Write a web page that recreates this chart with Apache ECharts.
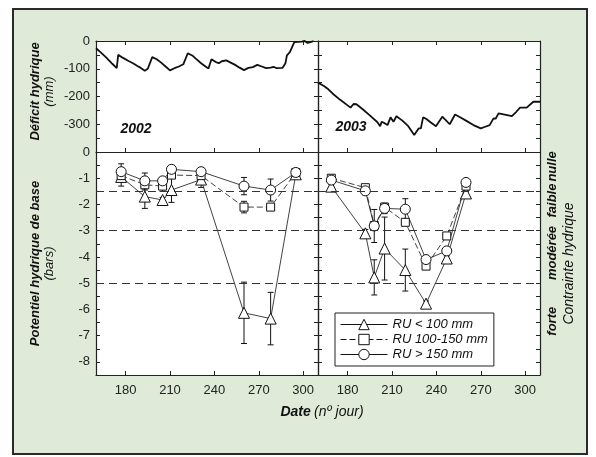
<!DOCTYPE html>
<html>
<head>
<meta charset="utf-8">
<script src="https://cdn.jsdelivr.net/npm/echarts@6/dist/echarts.min.js"></script>
<style>
  html, body { margin: 0; padding: 0; background: #fff; }
  #frame { position: absolute; left: 12px; top: 8px; width: 572px; height: 443px; border: 2px solid #2a2a2a; background: #e0ead8; }
  #chart { position: absolute; left: 0; top: 0; width: 596px; height: 457px; }
</style>
</head>
<body>
<div id="frame"></div>
<div id="chart"></div>
<script>
var FONT = '"Liberation Sans", Arial, sans-serif';

// axes
var xTicks = [180, 210, 240, 270, 300];
var deficitTicks = [0, -100, -200, -300];
var deficitTickMarks = [0, -50, -100, -150, -200, -250, -300, -350, -400];
var potentialTicks = [0, -1, -2, -3, -4, -5, -6, -7, -8];
var potentialTickMarks = [0, -0.5, -1, -1.5, -2, -2.5, -3, -3.5, -4, -4.5, -5, -5.5, -6, -6.5, -7, -7.5, -8, -8.5];

// stress classes
var stressLevels = [-1.5, -3, -5];
var stressLabels = ['nulle', 'faible', 'modérée', 'forte'];
var stressLabelAt = [-0.55, -1.85, -3.85, -6.45];

var seriesNames = ['RU < 100 mm', 'RU 100-150 mm', 'RU > 150 mm'];

// water deficit (mm) : [day, value]
var deficit2002 = [[160,-26],[163,-40],[167,-60],[171,-82],[174,-98],[175,-50],[178,-60],[182,-72],[185,-80],
  [188,-90],[190,-96],[193,-107],[195,-100],[198,-58],[201,-66],[204,-78],[207,-92],[210,-106],[213,-98],
  [216,-92],[219,-84],[220,-78],[222,-44],[225,-52],[228,-66],[231,-80],[234,-92],[236,-99],[238,-66],
  [241,-76],[243,-80],[245,-73],[248,-70],[251,-78],[254,-86],[257,-96],[260,-105],[263,-97],[266,-94],
  [269,-86],[272,-92],[275,-98],[278,-96],[280,-93],[282,-98],[286,-97],[288,-80],[289,-52],[291,-40],
  [292,-38],[294,-4],[295,0],[299,-2],[301,0],[303,-7],[305,-4],[307,0]];
var deficit2003 = [[160,-150],[164,-162],[167,-174],[170,-190],[175,-212],[180,-232],[182,-240],[184,-227],
  [186,-228],[190,-245],[195,-268],[200,-292],[202,-307],[203,-291],[205,-296],[207,-303],[209,-275],
  [211,-291],[213,-271],[217,-287],[221,-307],[225,-339],[226,-336],[228,-315],[229.5,-315],[231,-275],
  [233,-280],[236,-293],[239.7,-307],[244,-273],[246,-283],[249,-300],[252.6,-265],[256,-275],[260,-287],
  [265,-303],[270,-315],[273,-309],[276,-303],[278.6,-279],[280,-280],[282,-261],[287,-266],[291,-271],
  [294,-255],[296.5,-240],[301,-240],[305.5,-219],[310,-219]];

// predawn water potential (bars)
var days2002 = [177, 193, 205, 211, 231, 260, 278, 295];
var tri2002 = [-0.95, -1.7, -1.83, -1.45, -1.05, -6.13, -6.35, -0.85];
var triErr2002 = [0.35, 0.45, 0.1, 0.47, 0.3, 1.17, 1.0, 0.1];
var sq2002 = [-0.9, -1.25, -1.3, -0.88, -0.9, -2.1, -2.1, -0.78];
var sqErr2002 = [0.1, 0.2, 0.2, 0.1, 0.1, 0.22, 0.1, 0.1];
var circ2002 = [-0.75, -1.1, -1.1, -0.66, -0.75, -1.3, -1.45, -0.78];
var circErr2002 = [0.3, 0.3, 0.1, 0.1, 0.15, 0.33, 0.42, 0.1];

var days2003 = [169, 192, 198, 205, 219, 233, 247, 260];
var tri2003 = [-1.32, -3.1, -4.78, -3.68, -4.5, -5.78, -4.06, -1.58];
var triErr2003 = [0.1, 0.15, 0.67, 1.2, 0.8, 0.1, 0.1, 0.1];
var sq2003 = [-1.0, -1.36, -2.8, -2.1, -2.68, -4.35, -3.2, -1.3];
var sqErr2003 = [0.1, 0.1, 0.1, 0.1, 0.1, 0.1, 0.1, 0.1];
var circ2003 = [-1.07, -1.48, -2.82, -2.15, -2.18, -4.1, -3.77, -1.16];
var circErr2003 = [0.12, 0.15, 0.63, 0.2, 0.4, 0.1, 0.1, 0.1];

var symbols = ['triangle', 'rect', 'circle'];
var symbolSizes = [11, 8, 10];

function xAx(grid, pos, labels, ticks) {
    return {
        type: 'value', gridIndex: grid, position: pos, min: 160, max: 310,
        axisLine: { onZero: false, lineStyle: { color: '#222', width: 1.2 } },
        axisTick: { show: ticks, inside: true, length: 4, customValues: xTicks, lineStyle: { color: '#222' } },
        axisLabel: { show: labels, customValues: xTicks, margin: 9, color: '#222', fontSize: 13, fontFamily: FONT },
        splitLine: { show: false }
    };
}

function yAx(grid, pos, min, marks, labels) {
    return {
        type: 'value', gridIndex: grid, position: pos, min: min, max: 0,
        axisLine: { onZero: false, lineStyle: { color: '#222', width: 1.2 } },
        axisTick: { inside: true, length: 4, customValues: marks, lineStyle: { color: '#222' } },
        axisLabel: { show: !!labels, customValues: labels || [], margin: 6, color: '#222', fontSize: 13, fontFamily: FONT },
        splitLine: { show: false }
    };
}

function ruSeries(k, days, vals, xi, yi) {
    return {
        type: 'line', name: seriesNames[k], xAxisIndex: xi, yAxisIndex: yi, z: 3,
        data: days.map(function (d, i) { return [d, vals[i]]; }),
        symbol: symbols[k], symbolSize: symbolSizes[k],
        itemStyle: { color: '#fff', borderColor: '#111', borderWidth: 1 },
        lineStyle: { color: '#111', width: 0.8, type: k === 1 ? [6, 3] : 'solid' }
    };
}

function errorBars(name, days, vals, errs, xi, yi) {
    return {
        type: 'custom', name: name, xAxisIndex: xi, yAxisIndex: yi, z: 2, silent: true,
        data: days.map(function (d, i) { return [d, vals[i] - errs[i], vals[i] + errs[i]]; }),
        encode: { x: 0, y: [1, 2] },
        renderItem: function (params, api) {
            var lo = api.coord([api.value(0), api.value(1)]);
            var hi = api.coord([api.value(0), api.value(2)]);
            var w = 3;
            var st = { stroke: '#111', lineWidth: 1 };
            return {
                type: 'group', children: [
                    { type: 'line', shape: { x1: lo[0], y1: lo[1], x2: hi[0], y2: hi[1] }, style: st },
                    { type: 'line', shape: { x1: lo[0] - w, y1: lo[1], x2: lo[0] + w, y2: lo[1] }, style: st },
                    { type: 'line', shape: { x1: hi[0] - w, y1: hi[1], x2: hi[0] + w, y2: hi[1] }, style: st }
                ]
            };
        }
    };
}

function thresholds(xi, yi) {
    return {
        type: 'line', name: 'seuils', xAxisIndex: xi, yAxisIndex: yi, z: 1, data: [],
        markLine: {
            silent: true, symbol: 'none', label: { show: false }, animation: false,
            lineStyle: { color: '#333', width: 1, type: [8, 5] },
            data: stressLevels.map(function (v) { return { yAxis: v }; })
        }
    };
}

function deficitSeries(data, xi, yi) {
    return {
        type: 'line', name: 'deficit', xAxisIndex: xi, yAxisIndex: yi, data: data,
        showSymbol: false, symbol: 'none', lineStyle: { color: '#111', width: 1.8 }
    };
}

var myChart = echarts.init(document.getElementById('chart'));

var option = {
    animation: false,
    textStyle: { fontFamily: FONT },
    grid: [
        { left: 96, top: 41, width: 222, height: 111, show: true, backgroundColor: '#fff', borderWidth: 0 },
        { left: 318, top: 41, width: 222, height: 111, show: true, backgroundColor: '#fff', borderWidth: 0 },
        { left: 96, top: 152, width: 222, height: 223, show: true, backgroundColor: '#fff', borderWidth: 0 },
        { left: 318, top: 152, width: 222, height: 223, show: true, backgroundColor: '#fff', borderWidth: 0 }
    ],
    xAxis: [
        xAx(0, 'bottom', false, true),
        xAx(0, 'top', false, true),
        xAx(1, 'bottom', false, true),
        xAx(1, 'top', false, true),
        xAx(2, 'bottom', true, true),
        xAx(3, 'bottom', true, true)
    ],
    yAxis: [
        Object.assign(yAx(0, 'left', -400, deficitTickMarks, deficitTicks), {
            name: '{b|Déficit hydrique}\n{n|(mm)}', nameLocation: 'middle', nameGap: 40, nameRotate: 90,
            nameTextStyle: { padding: [0, 0, 0, 10], rich: {
                b: { fontWeight: 'bold', fontStyle: 'italic', fontSize: 13, color: '#111', lineHeight: 14, fontFamily: FONT },
                n: { fontStyle: 'italic', fontSize: 13, color: '#111', lineHeight: 14, fontFamily: FONT }
            } }
        }),
        yAx(0, 'right', -400, deficitTickMarks),
        yAx(1, 'left', -400, deficitTickMarks),
        yAx(1, 'right', -400, deficitTickMarks),
        Object.assign(yAx(2, 'left', -8.5, potentialTickMarks, potentialTicks), {
            name: '{b|Potentiel hydrique de base}\n{n|(bars)}', nameLocation: 'middle', nameGap: 40, nameRotate: 90,
            nameTextStyle: { rich: {
                b: { fontWeight: 'bold', fontStyle: 'italic', fontSize: 13, color: '#111', lineHeight: 14, fontFamily: FONT },
                n: { fontStyle: 'italic', fontSize: 13, color: '#111', lineHeight: 14, fontFamily: FONT }
            } }
        }),
        yAx(2, 'right', -8.5, potentialTickMarks),
        yAx(3, 'left', -8.5, potentialTickMarks),
        yAx(3, 'right', -8.5, potentialTickMarks),
        {
            type: 'value', gridIndex: 3, position: 'right', min: -8.5, max: 0,
            axisLine: { show: false, onZero: false }, axisTick: { show: false }, splitLine: { show: false },
            axisLabel: {
                customValues: stressLabelAt, rotate: 90, margin: 6,
                fontWeight: 'bold', fontStyle: 'italic', fontSize: 13, color: '#111', fontFamily: FONT,
                formatter: function (v) {
                    for (var i = 0; i < stressLabelAt.length; i++) {
                        if (Math.abs(stressLabelAt[i] - v) < 1e-6) return stressLabels[i];
                    }
                    return '';
                }
            },
            name: 'Contrainte hydrique', nameLocation: 'middle', nameGap: 22, nameRotate: 90,
            nameTextStyle: { fontStyle: 'italic', fontSize: 14, color: '#111', fontFamily: FONT }
        }
    ],
    legend: {
        data: seriesNames, selectedMode: false, orient: 'vertical',
        left: 335, top: 313, padding: [5, 6, 5, 5], itemGap: 2,
        itemWidth: 47, itemHeight: 13,
        lineStyle: { width: 1 },
        itemStyle: { borderWidth: 1 },
        backgroundColor: '#fff', borderColor: '#222', borderWidth: 1, borderRadius: 0,
        textStyle: { fontStyle: 'italic', fontSize: 13, color: '#111', fontFamily: FONT, padding: [0, 0, 0, 0] }
    },
    graphic: [
        { type: 'text', x: 136, y: 129, style: { text: '2002', align: 'center', verticalAlign: 'middle', fill: '#111', font: 'italic bold 14px ' + FONT } },
        { type: 'text', x: 351, y: 127, style: { text: '2003', align: 'center', verticalAlign: 'middle', fill: '#111', font: 'italic bold 14px ' + FONT } },
        { type: 'text', x: 322, y: 412, style: {
            text: '{b|Date} {n|(nº jour)}', align: 'center', verticalAlign: 'middle',
            rich: {
                b: { fontWeight: 'bold', fontStyle: 'italic', fontSize: 14, fill: '#111', fontFamily: FONT },
                n: { fontStyle: 'italic', fontSize: 14, fill: '#111', fontFamily: FONT }
            } } }
    ],
    series: [
        deficitSeries(deficit2002, 0, 0),
        deficitSeries(deficit2003, 2, 2),
        thresholds(4, 4),
        thresholds(5, 6),
        errorBars('e0', days2002, tri2002, triErr2002, 4, 4),
        errorBars('e1', days2002, sq2002, sqErr2002, 4, 4),
        errorBars('e2', days2002, circ2002, circErr2002, 4, 4),
        errorBars('e3', days2003, tri2003, triErr2003, 5, 6),
        errorBars('e4', days2003, sq2003, sqErr2003, 5, 6),
        errorBars('e5', days2003, circ2003, circErr2003, 5, 6),
        ruSeries(0, days2002, tri2002, 4, 4),
        ruSeries(1, days2002, sq2002, 4, 4),
        ruSeries(2, days2002, circ2002, 4, 4),
        ruSeries(0, days2003, tri2003, 5, 6),
        ruSeries(1, days2003, sq2003, 5, 6),
        ruSeries(2, days2003, circ2003, 5, 6)
    ]
};

if (option && typeof option === 'object') {
    myChart.setOption(option, true);
}
</script>
</body>
</html>
